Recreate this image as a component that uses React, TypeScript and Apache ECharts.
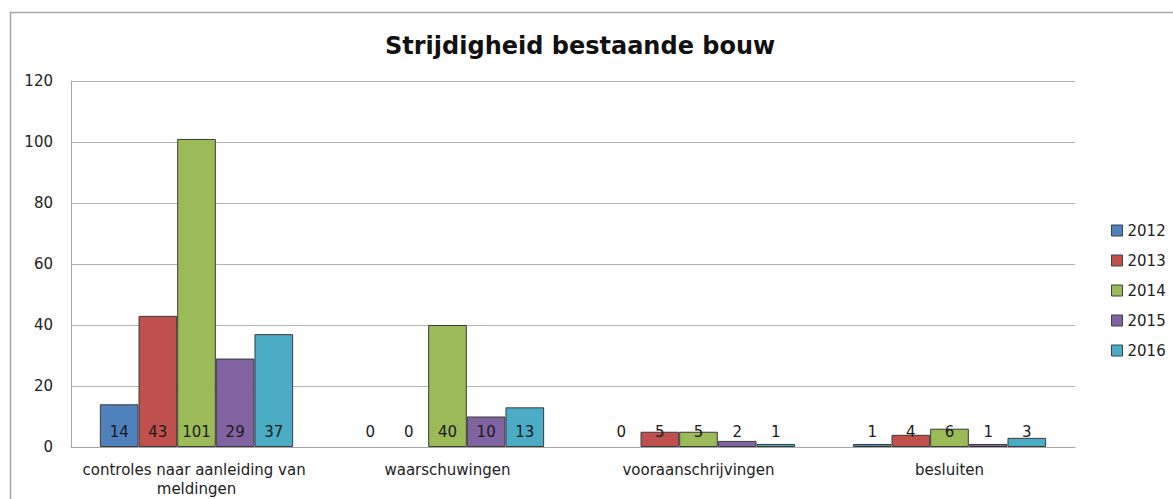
import React, { useEffect, useRef } from "react";
import * as echarts from "echarts";

const categories = [
  "controles naar aanleiding van meldingen",
  "waarschuwingen",
  "vooraanschrijvingen",
  "besluiten",
];
const years = ["2012", "2013", "2014", "2015", "2016"];
const values2012 = [14, 0, 0, 1];
const values2013 = [43, 0, 5, 4];
const values2014 = [101, 40, 5, 6];
const values2015 = [29, 10, 2, 1];
const values2016 = [37, 13, 1, 3];
const seriesValues = [values2012, values2013, values2014, values2015, values2016];
const colors = ["#4F81BD", "#C0504D", "#9BBB59", "#8064A2", "#4BACC6"];
const title = "Strijdigheid bestaande bouw";

const FONT = "DejaVu Sans";

export default function App() {
  const ref = useRef<HTMLDivElement>(null);
  useEffect(() => {
    if (!ref.current) return;
    const chart = echarts.init(ref.current, undefined, { renderer: "svg" });
    chart.setOption({
      animation: false,
      backgroundColor: "#ffffff",
      title: {
        text: title,
        left: 380,
        top: 29,
        textStyle: { fontFamily: FONT, fontSize: 24, fontWeight: "bold", color: "#111" },
      },
      legend: {
        orient: "vertical",
        left: 1106,
        top: 218,
        itemWidth: 11,
        itemHeight: 11,
        itemGap: 15,
        icon: "rect",
        data: years,
        itemStyle: { borderColor: "#404040", borderWidth: 1 },
        textStyle: { fontFamily: FONT, fontSize: 15, color: "#222" },
      },
      graphic: [
        {
          type: "rect",
          shape: { x: 10.5, y: 12.5, width: 1200, height: 600 },
          style: { fill: "none", stroke: "#A6A6A6", lineWidth: 1.5 },
          silent: true,
        },
      ],
      grid: { left: 71, right: 98, top: 81, bottom: 52, containLabel: false },
      xAxis: {
        type: "category",
        data: categories,
        axisLine: { lineStyle: { color: "#A6A6A6" } },
        axisTick: { show: false },
        axisLabel: {
          interval: 0,
          width: 245,
          overflow: "break",
          fontFamily: FONT,
          fontSize: 15,
          color: "#222",
          margin: 13,
          lineHeight: 19,
        },
      },
      yAxis: {
        type: "value",
        min: 0,
        max: 120,
        interval: 20,
        axisLine: { show: true, lineStyle: { color: "#A6A6A6" } },
        axisTick: { show: false },
        splitLine: { lineStyle: { color: "#B3B3B3" } },
        axisLabel: { fontFamily: FONT, fontSize: 15, color: "#222", margin: 18 },
      },
      series: years.map((y, i) => ({
        name: y,
        type: "bar",
        data: seriesValues[i].map((v) =>
          v === 0 ? { value: v, itemStyle: { borderWidth: 0 } } : v
        ),
        barCategoryGap: "23%",
        barGap: "0%",
        itemStyle: { color: colors[i], borderColor: "#3a3a3a", borderWidth: 1 },
        label: {
          show: true,
          position: "insideBottom",
          distance: 8,
          fontFamily: FONT,
          fontSize: 15,
          color: "#1a1a1a",
        },
      })),
    });
    return () => chart.dispose();
  }, []);
  return (
    <div
      ref={ref}
      style={{ position: "fixed", left: 0, top: 0, width: 1173, height: 499 }}
    />
  );
}
